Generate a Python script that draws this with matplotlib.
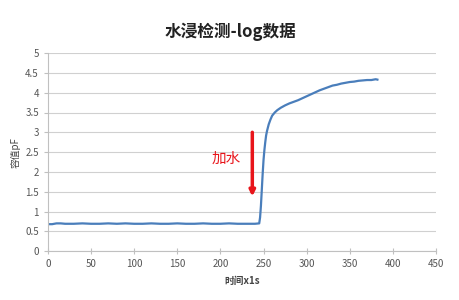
import matplotlib
matplotlib.use("Agg")
import matplotlib.pyplot as plt

plt.rcParams['font.family'] = ['Noto Sans CJK SC', 'DejaVu Sans']

# data
time_s = [0, 5, 10, 15, 20, 30, 40, 50, 60, 70, 80, 90, 100, 110, 120, 130, 140, 150,
          160, 170, 180, 190, 200, 210, 220, 230, 240, 245, 246, 247, 248, 249, 250,
          251, 252, 253, 254, 256, 258, 260, 263, 266, 270, 275, 280, 285, 290, 295,
          300, 305, 310, 315, 320, 325, 330, 335, 340, 345, 350, 355, 360, 365, 370,
          375, 380, 382]
cap_pf = [0.68, 0.68, 0.70, 0.70, 0.69, 0.69, 0.70, 0.69, 0.69, 0.70, 0.69, 0.70, 0.69,
          0.69, 0.70, 0.69, 0.69, 0.70, 0.69, 0.69, 0.70, 0.69, 0.69, 0.70, 0.69, 0.69,
          0.69, 0.70, 0.85, 1.15, 1.55, 1.95, 2.3, 2.55, 2.75, 2.92, 3.03, 3.2, 3.32,
          3.42, 3.5, 3.56, 3.62, 3.68, 3.73, 3.77, 3.81, 3.86, 3.91, 3.96, 4.01, 4.06,
          4.1, 4.14, 4.18, 4.2, 4.23, 4.25, 4.27, 4.28, 4.3, 4.31, 4.32, 4.32, 4.34, 4.33]

x_ticks = [0, 50, 100, 150, 200, 250, 300, 350, 400, 450]
y_ticks = [0, 0.5, 1, 1.5, 2, 2.5, 3, 3.5, 4, 4.5, 5]
y_tick_labels = ['0', '0.5', '1', '1.5', '2', '2.5', '3', '3.5', '4', '4.5', '5']

title = '水浸检测-log数据'
xlabel = '时间x1s'
ylabel = '容值pF'
annot = '加水'
arrow_x = 237
arrow_y_start = 3.0
arrow_y_end = 1.38
text_x = 207
text_y = 2.32

fig = plt.figure(figsize=(4.6, 3.0), dpi=100)
ax = fig.add_axes([0.104, 0.163, 0.844, 0.66])

ax.plot(time_s, cap_pf, color='#4a7ebb', linewidth=1.6)

ax.set_xlim(0, 450)
ax.set_ylim(0, 5)
ax.set_xticks(x_ticks)
ax.set_yticks(y_ticks)
ax.set_yticklabels(y_tick_labels)
ax.grid(axis='y', color='#d0d0d0', linewidth=0.8)
ax.set_axisbelow(True)

for s in ['top', 'right']:
    ax.spines[s].set_visible(False)
for s in ['left', 'bottom']:
    ax.spines[s].set_color('#c0c0c0')
    ax.spines[s].set_linewidth(0.8)

ax.tick_params(axis='both', colors='#c0c0c0', labelcolor='#555555', labelsize=7, length=3, width=0.8)
ax.tick_params(axis='x', direction='inout', length=5)

ax.set_xlabel(xlabel, fontsize=7, fontweight='bold', color='#444444', labelpad=5)
ax.set_ylabel(ylabel, fontsize=7, color='#444444', labelpad=3)

fig.suptitle(title, x=0.5, y=0.925, fontsize=12, fontweight='bold', color='#222222')

ax.annotate('', xy=(arrow_x, arrow_y_end), xytext=(arrow_x, arrow_y_start),
            arrowprops=dict(arrowstyle='-|>', color='#e8151b', lw=2.5,
                            mutation_scale=8, shrinkA=0, shrinkB=0))
ax.text(text_x, text_y, annot, color='#e8151b', fontsize=10.5, ha='center', va='center')

fig.savefig('out.png', dpi=100, facecolor='white')
